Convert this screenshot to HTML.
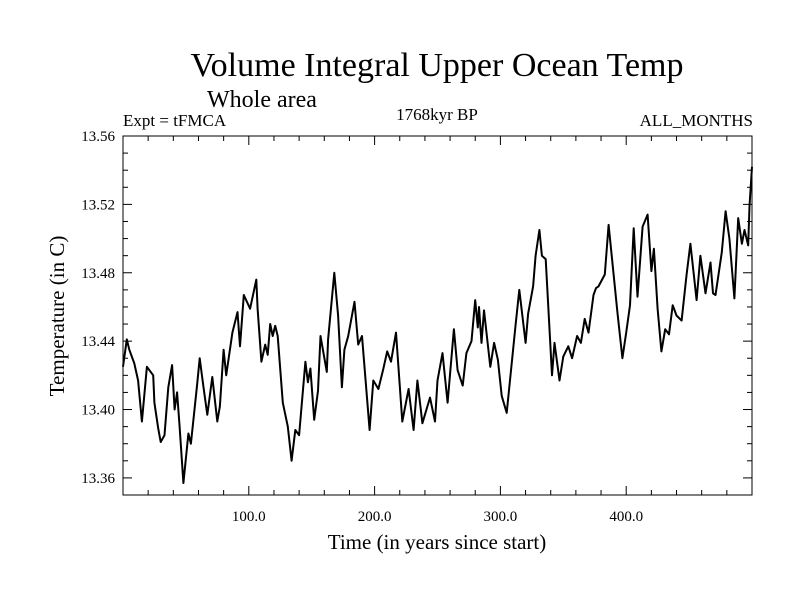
<!DOCTYPE html>
<html><head><meta charset="utf-8"><style>
body{margin:0;background:#fff}
svg{display:block;font-family:"Liberation Serif",serif}
</style></head><body>
<svg id="chart" width="800" height="600">
<text x="437" y="76" font-size="34" text-anchor="middle">Volume Integral Upper Ocean Temp</text>
<text x="207" y="107" font-size="24">Whole area</text>
<text x="123" y="126" font-size="17">Expt = tFMCA</text>
<text x="437" y="120" font-size="17" text-anchor="middle">1768kyr BP</text>
<text x="753" y="126" font-size="17" text-anchor="end">ALL_MONTHS</text>
<text x="437" y="549" font-size="21" text-anchor="middle">Time (in years since start)</text>
<text transform="translate(64,316) rotate(-90)" font-size="21" text-anchor="middle">Temperature (in C)</text>
<g id="axes"></g>
<path id="series" fill="none" stroke="#000" stroke-width="2" stroke-linejoin="round"></path>
<rect x="123" y="136" width="629" height="359" fill="none" stroke="#000" stroke-width="1"></rect>
</svg>
<script>
const years=[0,3,5,9,12,15,19,24,25,28,30,33,36,39,41,43,45,48,52,54,59,61,64,67,71,75,77,80,82,87,91,93,96,101,106,107,110,113,115,117,119,121,123,127,131,134,137,140,145,147,149,152,155,157,162,163,168,171,174,176,179,184,187,190,196,199,203,207,210,213,217,222,227,231,234,238,244,248,250,254,258,263,266,270,273,277,280,282,283,285,287,292,295,298,301,305,308,312,315,320,322,326,328,331,333,336,341,343,347,350,354,357,361,364,367,370,374,376,378,383,386,389,393,397,400,403,406,409,413,417,420,422,425,428,431,434,437,440,444,448,451,456,459,463,467,469,471,476,479,482,486,489,492,494,497,498,500];
const temps=[13.425,13.441,13.435,13.427,13.417,13.393,13.425,13.420,13.404,13.389,13.381,13.385,13.413,13.426,13.400,13.410,13.390,13.357,13.386,13.380,13.415,13.430,13.413,13.397,13.419,13.393,13.402,13.435,13.420,13.445,13.457,13.437,13.467,13.459,13.476,13.459,13.428,13.438,13.432,13.450,13.443,13.449,13.443,13.404,13.390,13.370,13.388,13.385,13.428,13.416,13.424,13.394,13.411,13.443,13.422,13.441,13.480,13.455,13.413,13.435,13.443,13.463,13.438,13.443,13.388,13.417,13.412,13.424,13.434,13.428,13.445,13.393,13.412,13.388,13.417,13.392,13.407,13.393,13.417,13.433,13.404,13.447,13.423,13.414,13.433,13.440,13.464,13.448,13.460,13.439,13.458,13.425,13.439,13.429,13.408,13.398,13.420,13.449,13.470,13.439,13.456,13.472,13.490,13.505,13.490,13.488,13.420,13.439,13.417,13.431,13.437,13.430,13.443,13.439,13.453,13.445,13.467,13.471,13.472,13.479,13.508,13.486,13.457,13.430,13.445,13.461,13.506,13.466,13.507,13.514,13.481,13.494,13.459,13.434,13.447,13.444,13.461,13.455,13.452,13.479,13.497,13.464,13.490,13.468,13.486,13.468,13.467,13.492,13.516,13.500,13.465,13.512,13.497,13.505,13.496,13.519,13.542];
const xTickVals=[100,200,300,400];
const xTickLabels=["100.0","200.0","300.0","400.0"];
const yTickVals=[13.36,13.40,13.44,13.48,13.52,13.56];
const yTickLabels=["13.36","13.40","13.44","13.48","13.52","13.56"];

const L=123,R=752,T=136,B=495,X0=0,X1=500,Y0=13.35,Y1=13.56;
const sx=v=>L+(v-X0)/(X1-X0)*(R-L);
const sy=v=>B-(v-Y0)/(Y1-Y0)*(B-T);
const NS='http://www.w3.org/2000/svg';
const axes=document.getElementById('axes');
function line(x1,y1,x2,y2){const l=document.createElementNS(NS,'line');l.setAttribute('x1',x1);l.setAttribute('y1',y1);l.setAttribute('x2',x2);l.setAttribute('y2',y2);l.setAttribute('stroke','#000');l.setAttribute('stroke-width','1');


axes.appendChild(l);}
function txt(x,y,s,anchor){const t=document.createElementNS(NS,'text');t.setAttribute('x',x);t.setAttribute('y',y);t.setAttribute('font-size','15');t.setAttribute('text-anchor',anchor);t.textContent=s;


axes.appendChild(t);}
for(let v=20;v<500;v+=20){const x=sx(v);const major=v%100===0;const len=major?9:5;line(x,B,x,B-len);line(x,T,x,T+len);}
for(let k=0;k<=20;k++){const v=13.36+k*0.01;if(v>13.5601)break;const y=sy(v);const major=k%4===0;const len=major?9:5;line(L,y,L+len,y);line(R,y,R-len,y);}
xTickVals.forEach((v,i)=>txt(sx(v),521,xTickLabels[i],'middle'));
yTickVals.forEach((v,i)=>txt(L-8,sy(v)+5,yTickLabels[i],'end'));
document.getElementById('series').setAttribute('d',years.map((y,i)=>(i?'L':'M')+sx(y).toFixed(1)+','+sy(temps[i]).toFixed(1)).join(''));
</script>
</body></html>
